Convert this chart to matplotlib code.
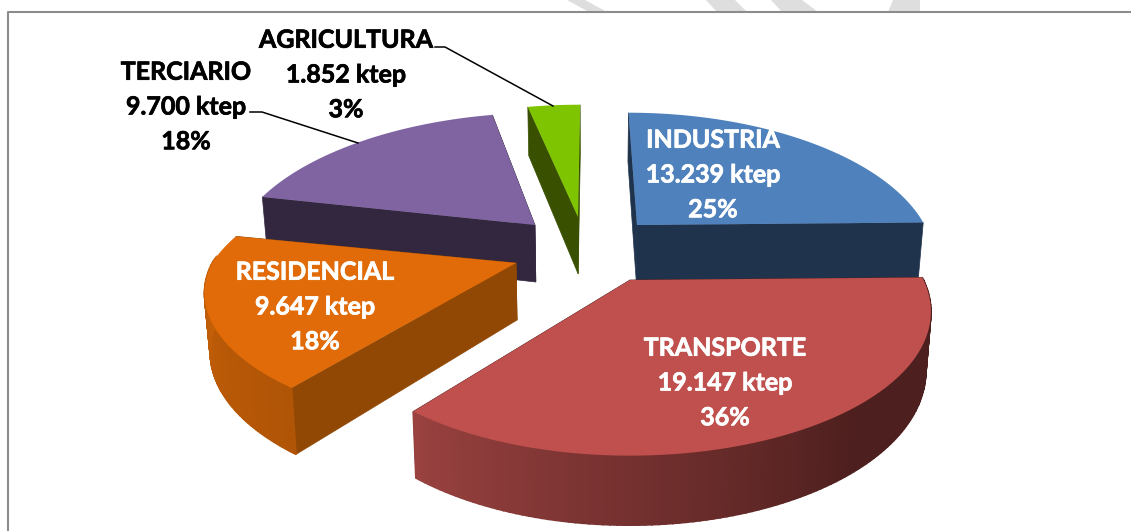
import numpy as np
import matplotlib
matplotlib.use("Agg")
import matplotlib.pyplot as plt
import matplotlib.patheffects as pe

names = ['INDUSTRIA', 'TRANSPORTE', 'RESIDENCIAL', 'TERCIARIO', 'AGRICULTURA']
values = [13239, 19147, 9647, 9700, 1852]
percents = [25, 36, 18, 18, 3]

top_colors = ['#4f81bd', '#c0504d', '#e16b08', '#8064a2', '#7fc400']
side_colors = ['#1f334d', '#4d1f1e', '#914805', '#32273f', '#385000']
wall_light = ['#1f334d', '#9a4240', '#c96308', '#32273f', '#385000']
wall_dark = ['#1f334d', '#4d1f1e', '#b05406', '#32273f', '#385000']

# apex of each exploded slice, in pixels
apex = [(637, 225), (630, 280), (516, 263), (535, 225), (578, 217)]
reach_x = [0.975, 0.995, 1.03, 1, 1]
reach_y = [1, 1, 0.95, 1, 1]
label_pos = [(713, 175), (725, 383), (315, 307), (186, 107), (346, 75)]
label_col = ['white', 'white', 'white', 'black', 'black']

rx, ry, k = 295, 137, 0.22
vx = 590
depth = 57

plt.rcParams['font.family'] = ['Lato', 'DejaVu Sans']
fig = plt.figure(figsize=(11.31, 5.31), dpi=100)
ax = fig.add_axes([0, 0, 1, 1])
ax.set_xlim(0, 1131)
ax.set_ylim(531, 0)
ax.axis('off')


def project(i, t, frac=1.0, low=False):
    # a point of slice i at angle t (clockwise from the back), seen in perspective
    a = apex[i]
    p = 1 / (1 + k * np.cos(t) * frac)
    x = a[0] + rx * reach_x[i] * np.sin(t) * frac * p
    if p < 1:
        x += (a[0] - vx) * (p - 1)
    y = a[1] - ry * reach_y[i] * np.cos(t) * frac * p
    if low:
        x = vx + (x - vx) * 0.985
        y = y + depth * p ** 0.8
    return x, y


def side(i, t, z):
    # flat cut face running from the apex to the rim
    pts = [project(i, t, 0), project(i, t), project(i, t, 1, True), project(i, t, 0, True)]
    ax.fill(*zip(*pts), color=side_colors[i], lw=0.5, zorder=z)


def mix(c0, c1, f):
    c0 = np.array(matplotlib.colors.to_rgb(c0))
    c1 = np.array(matplotlib.colors.to_rgb(c1))
    return c0 + (c1 - c0) * f


# painter's order, back slices first
order = [3, 4, 0, 2, 1]
angles = np.cumsum([0] + values) / sum(values) * 2 * np.pi

# band pieces above the frame
bands = [[(567, 0), (585, 0), (607, 12), (589, 12)],
         [(706, 0), (735, 0), (747, 12), (717, 12)],
         [(771, 0), (802, 0), (818, 12), (782, 12)],
         [(893, 0), (920, 0), (920, 12), (888, 12)]]
for b in bands:
    ax.fill(*zip(*b), color='#dedede', lw=0, zorder=0)
ax.plot([8, 8, 1131], [531, 12, 12], color='#8c8c8c', lw=1.5, zorder=1)

for n, i in enumerate(order):
    z = 2 + n
    t0, t1 = angles[i], angles[i + 1]
    ts = np.linspace(t0, t1, 120)
    side(i, t1, z)
    side(i, t0, z)
    # outer wall as thin strips, shaded along the rim
    if i in (1, 2):
        start = np.radians(140) if i == 1 else t0
        for s0, s1 in zip(ts[:-1], ts[1:]):
            if np.cos(s0) > 0.05:
                continue
            f = np.clip((s0 - start) / (t1 - start), 0, 1)
            col = mix(wall_dark[i], wall_light[i], f)
            pts = [project(i, s0), project(i, s1),
                   project(i, s1, 1, True), project(i, s0, 1, True)]
            ax.fill(*zip(*pts), color=col, lw=1.2, zorder=z + 0.1)
    poly = [project(i, t0, 0)] + [project(i, s) for s in ts]
    ax.fill(*zip(*poly), color=top_colors[i], lw=0, zorder=z + 0.2)

for i in range(len(names)):
    txt = f"{names[i]}\n{values[i]:,} ktep\n{percents[i]}%".replace(',', '.')
    ax.text(label_pos[i][0], label_pos[i][1], txt, color=label_col[i], ha='center',
            va='center', fontsize=18, fontweight='bold', linespacing=1.62, zorder=20,
            path_effects=[pe.withStroke(linewidth=0.5, foreground=label_col[i])])

# leader lines
ax.plot([435, 445, 553], [47, 47, 106], color='black', lw=1.1, zorder=19)
ax.plot([250, 262, 358], [112, 112, 143], color='black', lw=1.1, zorder=19)

fig.savefig('out.png', dpi=100)
